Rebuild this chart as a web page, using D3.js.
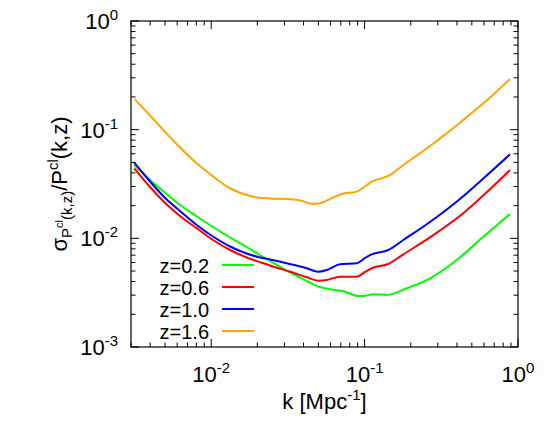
<!DOCTYPE html>
<html lang="en">
<head>
<meta charset="utf-8" />
<title>sigma P / P vs k</title>
<style>
  body { margin:0; background:#fff; }
  svg  { display:block; font-family:"Liberation Sans",Arial,Helvetica,sans-serif; }
  .frame { fill:none; stroke:#000; stroke-width:1.2px; }
  .tick  { stroke:#000; stroke-width:1px; }
  .curve { fill:none; stroke-width:2px; stroke-linejoin:round; }
</style>
</head>
<body>
<svg width="545" height="424"></svg>
<script src="https://cdn.jsdelivr.net/npm/d3@7"></script>
<script>
/* ---------- DATA ---------- */
const zLabels = ["z=0.2", "z=0.6", "z=1.0", "z=1.6"];
const colors  = ["#00ff00", "#ff0000", "#0000ff", "#ffa500"];

const kZ02 = [0.003152, 0.00399, 0.005126, 0.006259, 0.008041, 0.01027, 0.01326, 0.01703, 0.02018, 0.02416, 0.03263, 0.04194, 0.0499, 0.05946, 0.07263, 0.09096, 0.09804, 0.1139, 0.1427, 0.188, 0.2668, 0.3983, 0.5938, 0.8867];
const vZ02 = [0.0473, 0.03443, 0.02559, 0.02026, 0.01589, 0.01272, 0.01018, 0.008324, 0.007177, 0.006187, 0.004849, 0.004033, 0.003603, 0.003397, 0.003256, 0.002946, 0.002946, 0.003055, 0.00303, 0.00347, 0.004288, 0.00632, 0.01035, 0.01675];

const kZ06 = [0.003152, 0.00399, 0.005126, 0.006259, 0.008041, 0.01027, 0.01326, 0.01703, 0.02185, 0.02644, 0.03263, 0.04194, 0.0499, 0.05659, 0.06912, 0.08879, 0.1006, 0.1112, 0.1427, 0.1788, 0.2668, 0.4397, 0.6277, 0.8867];
const vZ06 = [0.04411, 0.02968, 0.02048, 0.01606, 0.01237, 0.009654, 0.007811, 0.006663, 0.005893, 0.005391, 0.004932, 0.00438, 0.004074, 0.004135, 0.004436, 0.004436, 0.004901, 0.005302, 0.005805, 0.00713, 0.01022, 0.017, 0.02669, 0.04255];

const kZ10 = [0.003152, 0.00399, 0.005126, 0.006259, 0.008041, 0.01027, 0.01326, 0.01703, 0.02018, 0.02416, 0.03105, 0.04194, 0.0499, 0.05659, 0.06912, 0.08879, 0.1006, 0.1112, 0.1427, 0.1788, 0.2668, 0.4184, 0.6091, 0.8867];
const vZ10 = [0.04966, 0.03334, 0.02277, 0.01785, 0.01327, 0.0104, 0.008411, 0.007253, 0.006735, 0.006386, 0.005893, 0.005302, 0.004932, 0.005113, 0.005768, 0.005893, 0.006594, 0.00713, 0.007811, 0.009654, 0.01414, 0.02301, 0.03668, 0.05934];

const kZ16 = [0.00317, 0.00399, 0.00487, 0.00626, 0.00804, 0.01027, 0.01326, 0.0166, 0.0198, 0.02416, 0.03105, 0.0379, 0.0463, 0.0512, 0.0595, 0.0709, 0.0888, 0.1006, 0.1112, 0.1427, 0.1788, 0.2668, 0.4397, 0.657, 0.8867];
const vZ16 = [0.1903, 0.135, 0.0993, 0.0685, 0.049, 0.0371, 0.0289, 0.0253, 0.0238, 0.02325, 0.023, 0.0223, 0.0207, 0.021, 0.023, 0.0256, 0.0269, 0.030, 0.0332, 0.0375, 0.0473, 0.0707, 0.1227, 0.1973, 0.2926];

const xMajor = [0.01, 0.1, 1];
const yMajor = [0.001, 0.01, 0.1, 1];

const series = [
  {k:kZ02, v:vZ02}, {k:kZ06, v:vZ06}, {k:kZ10, v:vZ10}, {k:kZ16, v:vZ16}
];

/* ---------- LAYOUT ---------- */
const svg = d3.select("svg");
const L = 131, R = 518, T = 21, B = 347;
const x = d3.scaleLog().domain([0.003, 1]).range([L, R]);
const y = d3.scaleLog().domain([0.001, 1]).range([B, T]);
const majLen = 8, minLen = 4.5;

/* ---------- TICKS (all four sides, inward) ---------- */
const gt = svg.append("g");
const isMajor = v => Math.abs(Math.log10(v) - Math.round(Math.log10(v))) < 1e-9;

x.ticks().forEach(v => {
  const len = isMajor(v) ? majLen : minLen, px = x(v);
  gt.append("line").attr("class","tick").attr("x1",px).attr("x2",px).attr("y1",B).attr("y2",B-len);
  gt.append("line").attr("class","tick").attr("x1",px).attr("x2",px).attr("y1",T).attr("y2",T+len);
});
y.ticks().forEach(v => {
  const len = isMajor(v) ? majLen : minLen, py = y(v);
  gt.append("line").attr("class","tick").attr("x1",L).attr("x2",L+len).attr("y1",py).attr("y2",py);
  gt.append("line").attr("class","tick").attr("x1",R).attr("x2",R-len).attr("y1",py).attr("y2",py);
});

/* ---------- TICK LABELS ---------- */
function powLabel(sel, e) {
  sel.append("tspan").text("10");
  sel.append("tspan").attr("font-size", 15).attr("dy", -9).text(e);
}
xMajor.forEach(v => {
  const t = svg.append("text").attr("x", x(v)).attr("y", B + 35)
    .attr("text-anchor","middle").attr("font-size", 22);
  powLabel(t, Math.round(Math.log10(v)));
});
yMajor.forEach(v => {
  const t = svg.append("text").attr("x", 118).attr("y", y(v) + 8)
    .attr("text-anchor","end").attr("font-size", 22);
  powLabel(t, Math.round(Math.log10(v)));
});

/* ---------- AXIS TITLES ---------- */
const xt = svg.append("text").attr("x", (L+R)/2).attr("y", 409)
  .attr("text-anchor","middle").attr("font-size", 22);
xt.append("tspan").text("k [Mpc");
xt.append("tspan").attr("font-size", 15).attr("dy", -9).text("-1");
xt.append("tspan").attr("dy", 9).text("]");

const yt = svg.append("text")
  .attr("transform", `translate(67,${(T+B)/2}) rotate(-90)`)
  .attr("text-anchor","middle").attr("font-size", 22);
yt.append("tspan").text("σ");
yt.append("tspan").attr("font-size", 15).attr("dy", 5).text("P");
yt.append("tspan").attr("font-size", 11).attr("dy", -9).text("cl");
yt.append("tspan").attr("font-size", 15).attr("dy", 9).text("(k,z)");
yt.append("tspan").attr("dy", -5).text("/P");
yt.append("tspan").attr("font-size", 15).attr("dy", -9).text("cl");
yt.append("tspan").attr("dy", 9).text("(k,z)");

/* ---------- CURVES ---------- */
const line = d3.line().x(d => x(d[0])).y(d => y(d[1])).curve(d3.curveMonotoneX);
series.forEach((s, i) => {
  svg.append("path").attr("class","curve")
    .attr("stroke", colors[i])
    .attr("d", line(s.k.map((k, j) => [k, s.v[j]])));
});

/* ---------- LEGEND ---------- */
zLabels.forEach((lab, i) => {
  const ly = 265 + i * 22;
  svg.append("text").attr("x", 209).attr("y", ly + 8)
    .attr("text-anchor","end").attr("font-size", 20).text(lab);
  svg.append("line").attr("x1", 222).attr("x2", 254).attr("y1", ly).attr("y2", ly)
    .attr("stroke", colors[i]).attr("stroke-width", 2);
});

/* ---------- FRAME ---------- */
svg.append("rect").attr("class","frame")
  .attr("x", L).attr("y", T).attr("width", R-L).attr("height", B-T);
</script>
</body>
</html>
